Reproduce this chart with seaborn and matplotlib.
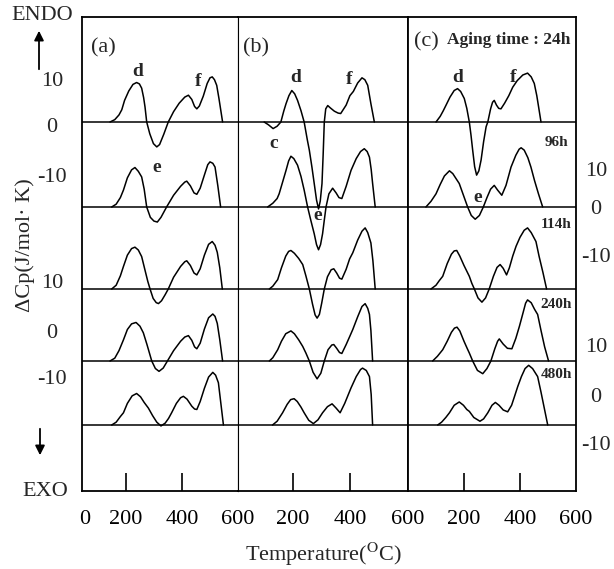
import numpy as np
import pandas as pd
import matplotlib
matplotlib.use("Agg")
import matplotlib.pyplot as plt
import seaborn as sns

# aging times, one curve per row in every panel
aging = ["24h", "96h", "114h", "240h", "480h"]
panels = ["(a)", "(b)", "(c)"]

# ---- panel (a) ----
a_24_t = [143, 160, 175, 185, 195, 210, 225, 238, 248, 256, 263, 268, 274, 285, 298, 310, 320, 335, 351, 370, 390, 410, 423, 435, 445, 453, 462, 476, 490, 500, 508, 516, 524, 532, 545]
a_24_cp = [0, 0.5, 1.5, 2.6, 4.6, 6.6, 8.0, 8.4, 8.1, 7.2, 5.2, 3.2, 0, -2.5, -4.6, -5.3, -4.8, -2.6, 0, 2.2, 4.0, 5.3, 5.7, 4.8, 3.3, 2.8, 3.4, 5.5, 8.2, 9.4, 9.6, 9.0, 7.8, 5.0, 0]
a_96_t = [149, 165, 180, 191, 205, 220, 232, 244, 256, 265, 274, 287, 300, 312, 325, 345, 370, 395, 410, 417, 430, 443, 453, 465, 480, 492, 500, 510, 518, 528, 538]
a_96_cp = [0, 0.6, 2.0, 3.6, 6.2, 7.9, 8.4, 7.6, 6.4, 3.8, 0, -2.2, -3.0, -3.2, -2.2, 0, 2.5, 4.4, 5.3, 5.5, 4.5, 3.0, 2.7, 4.0, 6.8, 9.0, 9.6, 9.3, 8.5, 4.5, 0]
a_114_t = [149, 165, 180, 191, 205, 220, 232, 244, 256, 268, 278, 286, 297, 308, 316, 327, 340, 351, 370, 395, 410, 417, 430, 443, 453, 465, 480, 495, 508, 518, 526, 535, 544]
a_114_cp = [0, 0.8, 2.8, 4.8, 7.2, 8.6, 8.9, 8.3, 6.9, 4.0, 1.6, 0, -2.0, -2.9, -3.1, -2.5, -1.2, 0, 2.5, 4.8, 5.8, 6.0, 5.0, 3.4, 3.0, 4.3, 7.2, 9.5, 10.1, 9.3, 7.8, 4.5, 0]
a_240_t = [143, 160, 175, 191, 205, 220, 236, 250, 262, 275, 292, 305, 318, 333, 348, 370, 395, 410, 423, 435, 445, 453, 465, 480, 495, 510, 518, 526, 535, 545]
a_240_cp = [0, 0.6, 2.2, 4.5, 6.7, 7.9, 8.2, 7.4, 6.0, 3.5, 0, -1.6, -2.2, -1.5, 0, 2.2, 4.2, 5.1, 5.4, 4.4, 3.0, 2.6, 3.8, 6.8, 9.2, 10.0, 9.5, 8.0, 4.5, 0]
a_480_t = [149, 165, 180, 191, 205, 222, 238, 252, 265, 280, 295, 310, 325, 340, 352, 363, 380, 395, 405, 418, 435, 445, 453, 465, 480, 495, 510, 520, 530, 538, 548]
a_480_cp = [0, 0.6, 1.8, 2.6, 4.6, 6.2, 6.7, 6.0, 4.8, 3.6, 2.0, 0.6, -0.2, 0.4, 1.4, 2.6, 4.6, 5.8, 6.1, 5.5, 4.0, 3.4, 3.3, 5.0, 7.8, 10.2, 11.2, 10.6, 9.0, 5.0, 0]

# ---- panel (b) ----
b_24_t = [100, 115, 131, 145, 158, 168, 176, 186, 196, 206, 216, 228, 239, 250, 257, 266, 274, 282, 289, 295, 301, 305, 309, 314, 321, 330, 344, 357, 366, 385, 398, 410, 425, 440, 450, 460, 471, 483]
b_24_cp = [0, -0.6, -1.4, -0.9, 0, 2.3, 3.9, 5.6, 6.7, 6.0, 4.6, 2.4, 0, -3.8, -6.0, -9.6, -13.1, -16.6, -18.5, -16.8, -13.1, -7.0, 0, 2.8, 3.5, 3.0, 2.3, 1.9, 1.8, 3.6, 5.6, 6.5, 8.3, 9.4, 9.0, 7.8, 3.9, 0]
b_96_t = [112, 130, 145, 152, 165, 176, 185, 193, 203, 216, 228, 239, 251, 262, 274, 282, 289, 296, 303, 309, 315, 325, 338, 350, 360, 370, 385, 402, 420, 435, 448, 458, 466, 472, 477, 486]
b_96_cp = [0, 0.8, 1.8, 2.8, 5.5, 7.8, 9.8, 10.8, 10.3, 8.9, 6.5, 3.6, 0, -2.8, -5.7, -8.0, -9.1, -8.0, -5.7, -2.8, 0, 2.8, 4.0, 3.0, 2.0, 1.8, 4.4, 7.8, 10.3, 11.8, 12.4, 11.8, 10.6, 8.0, 5.0, 0]
b_114_t = [118, 130, 147, 160, 175, 185, 193, 205, 220, 234, 245, 257, 268, 277, 284, 292, 300, 309, 320, 333, 342, 352, 362, 370, 385, 397, 408, 425, 440, 451, 460, 471, 478, 486]
b_114_cp = [0, 0.6, 2.0, 4.5, 7.0, 8.0, 8.2, 7.6, 6.5, 5.2, 2.8, 0, -3.2, -5.5, -6.2, -5.4, -3.0, 0, 2.6, 4.1, 4.3, 3.4, 2.3, 2.1, 4.2, 6.4, 7.7, 10.4, 12.3, 13.0, 12.0, 9.8, 6.0, 0]
b_240_t = [118, 130, 147, 160, 175, 193, 205, 220, 234, 245, 257, 270, 284, 297, 309, 322, 335, 342, 352, 362, 370, 385, 398, 408, 425, 440, 451, 460, 466, 471, 477]
b_240_cp = [0, 0.7, 2.4, 4.2, 5.8, 6.4, 5.8, 4.5, 3.1, 1.7, 0, -2.4, -3.8, -2.6, 0, 2.4, 3.4, 3.5, 2.7, 1.8, 1.6, 3.5, 5.3, 6.7, 9.4, 11.6, 12.2, 11.2, 9.9, 6.5, 0]
b_480_t = [129, 145, 164, 180, 192, 204, 215, 228, 239, 255, 271, 287, 303, 320, 336, 350, 364, 380, 402, 420, 435, 442, 455, 466, 472, 477]
b_480_cp = [0, 0.8, 2.6, 4.4, 5.4, 5.6, 5.0, 3.8, 2.6, 1.0, 0.3, 1.1, 2.6, 3.9, 4.5, 3.6, 2.6, 4.6, 7.9, 10.3, 11.8, 12.1, 11.6, 10.3, 6.5, 0]

# ---- panel (c) ----
c_24_t = [100, 115, 126, 136, 150, 165, 177, 188, 201, 210, 219, 225, 231, 238, 245, 253, 261, 270, 279, 285, 295, 302, 308, 316, 324, 332, 345, 360, 374, 390, 410, 427, 440, 451, 460, 467, 475]
c_24_cp = [0, 1.2, 2.4, 3.6, 5.3, 6.7, 7.1, 6.5, 5.0, 2.9, 0, -2.8, -6.0, -9.5, -11.3, -10.4, -8.1, -4.2, -1.0, 0, 2.8, 4.2, 4.6, 3.6, 2.9, 2.8, 4.0, 5.6, 7.4, 8.8, 10.0, 10.4, 9.6, 8.2, 5.6, 3.0, 0]
c_96_t = [64, 82, 100, 115, 130, 148, 160, 172, 183, 198, 213, 226, 240, 255, 269, 282, 295, 308, 320, 335, 350, 368, 385, 397, 404, 415, 428, 439, 452, 466, 481]
c_96_cp = [0, 1.2, 2.8, 4.8, 6.6, 7.7, 7.1, 6.0, 5.0, 2.5, 0, -1.8, -2.6, -1.8, 0, 2.0, 3.8, 4.6, 3.6, 2.5, 4.6, 8.5, 11.0, 12.3, 12.6, 12.1, 10.5, 8.5, 5.6, 2.8, 0]
c_114_t = [82, 100, 112, 124, 140, 155, 165, 174, 185, 200, 219, 228, 237, 250, 264, 277, 290, 305, 318, 329, 340, 352, 362, 374, 386, 400, 415, 427, 440, 457, 468, 482, 495]
c_114_cp = [0, 0.8, 1.8, 2.7, 5.4, 7.4, 8.1, 8.2, 7.0, 5.0, 2.7, 1.2, 0, -1.9, -2.8, -1.9, 0, 2.7, 4.6, 5.2, 4.4, 3.0, 4.5, 7.0, 9.1, 11.0, 12.5, 13.0, 12.0, 10.1, 7.0, 3.5, 0]
c_240_t = [88, 105, 124, 140, 155, 166, 175, 185, 200, 212, 219, 231, 248, 267, 282, 296, 310, 320, 326, 340, 355, 371, 385, 398, 412, 420, 427, 440, 452, 463, 475, 488, 502]
c_240_cp = [0, 1.0, 2.4, 4.2, 6.1, 7.0, 7.2, 6.4, 4.2, 2.6, 1.7, 0, -2.0, -2.7, -1.6, 0, 2.6, 4.2, 4.7, 3.6, 2.7, 2.6, 4.8, 7.4, 10.5, 12.3, 13.0, 12.4, 11.0, 9.9, 6.5, 3.0, 0]
c_480_t = [106, 120, 135, 148, 165, 183, 198, 210, 219, 235, 257, 270, 285, 300, 312, 325, 340, 356, 370, 380, 392, 405, 418, 431, 445, 463, 475, 487, 499]
c_480_cp = [0, 0.6, 1.6, 2.6, 4.2, 4.9, 4.2, 3.3, 2.9, 1.6, 0.8, 1.3, 2.6, 4.2, 4.8, 4.2, 3.2, 2.8, 4.2, 6.0, 8.2, 10.3, 12.0, 12.7, 12.0, 10.3, 7.0, 3.5, 0]

curves = {
    "(a)": [(a_24_t, a_24_cp), (a_96_t, a_96_cp), (a_114_t, a_114_cp), (a_240_t, a_240_cp), (a_480_t, a_480_cp)],
    "(b)": [(b_24_t, b_24_cp), (b_96_t, b_96_cp), (b_114_t, b_114_cp), (b_240_t, b_240_cp), (b_480_t, b_480_cp)],
    "(c)": [(c_24_t, c_24_cp), (c_96_t, c_96_cp), (c_114_t, c_114_cp), (c_240_t, c_240_cp), (c_480_t, c_480_cp)],
}

W, H = 614, 569
px_per_unit = 4.7
# vertical offset of every stacked curve (pixel rows of the baselines)
offsets = [(491 - b) / px_per_unit for b in (122, 207, 289, 361, 425)]
shift = dict(zip(aging, offsets))

frames = []
for p, lst in curves.items():
    for age, (t, cp) in zip(aging, lst):
        frames.append(pd.DataFrame({"panel": p, "aging": age, "T": t, "dCp": cp}))
df = pd.concat(frames, ignore_index=True)
df["y"] = df["dCp"] + df["aging"].map(shift)

sns.set_style("white")
plt.rcParams["font.family"] = ["Liberation Serif", "DejaVu Serif"]
plt.rcParams["mathtext.fontset"] = "stix"
plt.rcParams["axes.edgecolor"] = "black"

fig = plt.figure(figsize=(W / 100, H / 100), dpi=100)
gs = fig.add_gridspec(1, 3, left=82 / W, right=576 / W, bottom=1 - 491 / H, top=1 - 17 / H,
                      width_ratios=[156, 170, 168], wspace=0)
axes = [fig.add_subplot(gs[0, i]) for i in range(3)]

xlims = [(43, 600), (9, 600), (0, 600)]
tick_pos = [[54, 200, 400, 600], [200, 400, 600], [200, 400, 600]]
tick_lab = [["0", "200", "400", "600"], ["200", "400", "600"], ["200", "400", "600"]]

for i, (ax, p) in enumerate(zip(axes, panels)):
    for off in offsets:
        ax.axhline(off, color="black", lw=1.1, zorder=1)
    sns.lineplot(data=df[df["panel"] == p], x="T", y="y", units="aging", estimator=None,
                 sort=False, color="black", lw=1.1, ax=ax, zorder=2)
    ax.set_xlim(*xlims[i])
    ax.set_ylim(0, 474 / px_per_unit)
    ax.set_yticks([])
    ax.set_xlabel("")
    ax.set_ylabel("")
    ax.set_xticks(tick_pos[i])
    ax.set_xticklabels(tick_lab[i])
    ax.tick_params(axis="x", direction="in", length=13, width=1.2, pad=14,
                   labelsize=16, bottom=True, top=False, colors="black")
    for tk, v in zip(ax.xaxis.get_major_ticks(), tick_pos[i]):
        if v not in (200, 400):
            tk.tick1line.set_visible(False)
    for s in ax.spines.values():
        s.set_linewidth(1.3)
        s.set_color("black")
axes[0].spines["right"].set_linewidth(0.8)
axes[1].spines["left"].set_linewidth(0.8)


def ftext(x, y, s, **kw):
    fig.text(x / W, 1 - y / H, s, ha=kw.pop("ha", "center"), va=kw.pop("va", "center"), **kw)


# left / right scale labels
for y, s in zip([81, 128, 177, 283, 333, 379], ["10", "0", "-10", "10", "0", "-10"]):
    ftext(52, y, s, fontsize=16)
for y, s in zip([172, 210, 257, 348, 397, 445], ["10", "0", "-10", "10", "0", "-10"]):
    ftext(596, y, s, fontsize=16)

ftext(42, 16, "ENDO", fontsize=16)
ftext(45, 492, "EXO", fontsize=16)
ftext(25, 245, "ΔCp(J/mol· K)", fontsize=16, rotation=90)
ftext(323, 554, r"Temperature($^{\mathrm{O}}$C)", fontsize=16)

axes[0].annotate("", xy=(39, H - 28), xytext=(39, H - 72), xycoords="figure pixels",
                 textcoords="figure pixels", annotation_clip=False,
                 arrowprops=dict(arrowstyle="-|>", color="black", lw=1.3, mutation_scale=14))
axes[0].annotate("", xy=(40, H - 458), xytext=(40, H - 426), xycoords="figure pixels",
                 textcoords="figure pixels", annotation_clip=False,
                 arrowprops=dict(arrowstyle="-|>", color="black", lw=1.3, mutation_scale=14))

# panel names and peak letters
ftext(103, 48, "(a)", fontsize=16)
ftext(256, 48, "(b)", fontsize=16)
ftext(426, 42, "(c)", fontsize=16)
ftext(447, 40, "Aging time : 24h", fontsize=12.5, fontweight="bold", ha="left")

bold = dict(fontsize=14, fontweight="bold")
for x, y, s in [(138, 72, "d"), (198, 82, "f"), (157, 168, "e"),
                (296, 78, "d"), (349, 80, "f"), (274, 143, "c"), (318, 216, "e"),
                (458, 78, "d"), (513, 77, "f"), (478, 197, "e")]:
    ftext(x, y, s, **bold)

for y, s in zip([142, 225, 305, 375], aging[1:]):
    ftext(556, y, s, fontsize=11, fontweight="bold")

fig.savefig("out.png", dpi=100)
